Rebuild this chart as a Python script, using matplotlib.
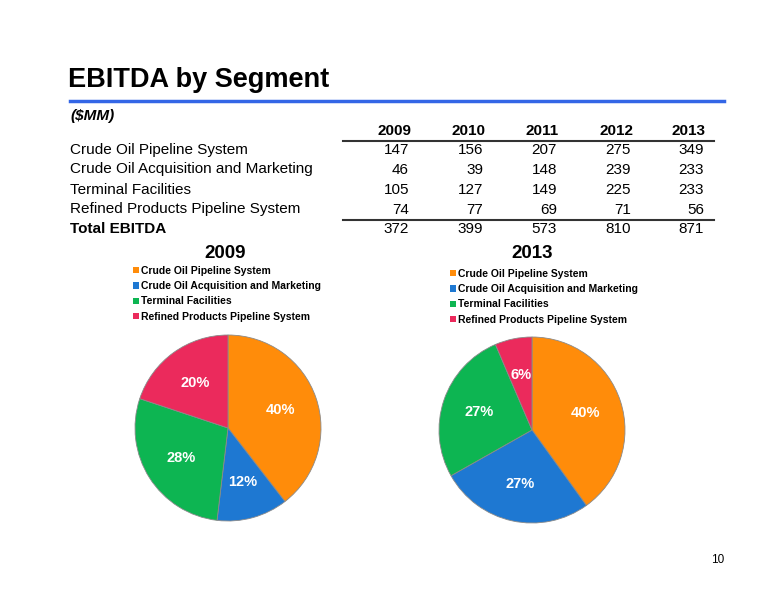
"""
EBITDA by segment: summary table plus 2009 / 2013 pie breakdown
"""
import matplotlib
matplotlib.use("Agg")
import matplotlib.pyplot as plt
from matplotlib.patches import Patch
from matplotlib.lines import Line2D

plt.rcParams['font.family'] = ['Liberation Sans', 'DejaVu Sans']

years = ["2009", "2010", "2011", "2012", "2013"]
segments = [
    "Crude Oil Pipeline System",
    "Crude Oil Acquisition and Marketing",
    "Terminal Facilities",
    "Refined Products Pipeline System",
]
crude_pipeline = [147, 156, 207, 275, 349]
crude_acq = [46, 39, 148, 239, 233]
terminal = [105, 127, 149, 225, 233]
refined = [74, 77, 69, 71, 56]
total_ebitda = [372, 399, 573, 810, 871]
seg_colors = ["#FF8C0A", "#1E78D2", "#0DB552", "#EB2A5C"]

W, H = 776, 600
fig = plt.figure(figsize=(W / 100, H / 100), dpi=100)


def fx(px):
    return px / W


def fy(py):
    return 1 - py / H


# title and rule
fig.text(fx(68), fy(80), "EBITDA by Segment", fontsize=19.5, fontweight='bold',
         va='center', ha='left')
fig.add_artist(Line2D([fx(70), fx(724)], [fy(101), fy(101)], color="#3366E6", lw=2.5))
fig.text(fx(70), fy(116), "($MM)", fontsize=11, fontweight='bold', style='italic',
         va='center', ha='left')

# table
col_right = [411, 485, 559, 633, 706]
row_y = [150, 169.5, 189.5, 209.5, 229]
for x, yr in zip(col_right, years):
    fig.text(fx(x), fy(131), yr, fontsize=11, fontweight='bold', ha='right', va='center')
fig.add_artist(Line2D([fx(343), fx(714)], [fy(140.5), fy(140.5)], color="#333333", lw=1.5))
fig.add_artist(Line2D([fx(343), fx(714)], [fy(220), fy(220)], color="#333333", lw=1.5))

rows = [crude_pipeline, crude_acq, terminal, refined, total_ebitda]
labels = segments + ["Total EBITDA"]
for i, (lab, vals) in enumerate(zip(labels, rows)):
    weight = 'bold' if lab == "Total EBITDA" else 'normal'
    fig.text(fx(70), fy(row_y[i]), lab, fontsize=11, fontweight=weight,
             ha='left', va='center')
    for x, v in zip(col_right, vals):
        fig.text(fx(x - 2), fy(row_y[i]), str(v), fontsize=11, ha='right', va='center')


def draw_pie(year_idx, cx, cy, r, title_x, legend_x, legend_y):
    vals = [crude_pipeline[year_idx], crude_acq[year_idx],
            terminal[year_idx], refined[year_idx]]
    ax = fig.add_axes([fx(cx - r), fy(cy + r), 2 * r / W, 2 * r / H])
    ax.pie(vals, colors=seg_colors, startangle=90, counterclock=False,
           autopct='%1.0f%%', pctdistance=0.6,
           wedgeprops=dict(edgecolor="#8a8a8a", linewidth=0.6),
           textprops=dict(color='white', fontsize=10.5, fontweight='bold'))
    ax.set_xlim(-1, 1)
    ax.set_ylim(-1, 1)
    ax.set_aspect('auto')
    fig.text(fx(title_x), fy(254), years[year_idx], fontsize=13.5, fontweight='bold',
             ha='center', va='center')
    handles = [Patch(facecolor=c, edgecolor='none') for c in seg_colors]
    fig.legend(handles, segments, loc='upper left',
               bbox_to_anchor=(fx(legend_x), fy(legend_y)), frameon=False,
               handlelength=0.55, handleheight=0.55, handletextpad=0.25,
               labelspacing=0.5, borderpad=0, borderaxespad=0,
               prop=dict(size=7.5, weight='bold'))


draw_pie(0, 228, 428, 93, 225, 133, 266)
draw_pie(4, 532, 430, 93, 532, 450, 269)

fig.text(fx(718), fy(560), "10", fontsize=8.5, ha='center', va='center')

plt.savefig("out.png", dpi=100)
